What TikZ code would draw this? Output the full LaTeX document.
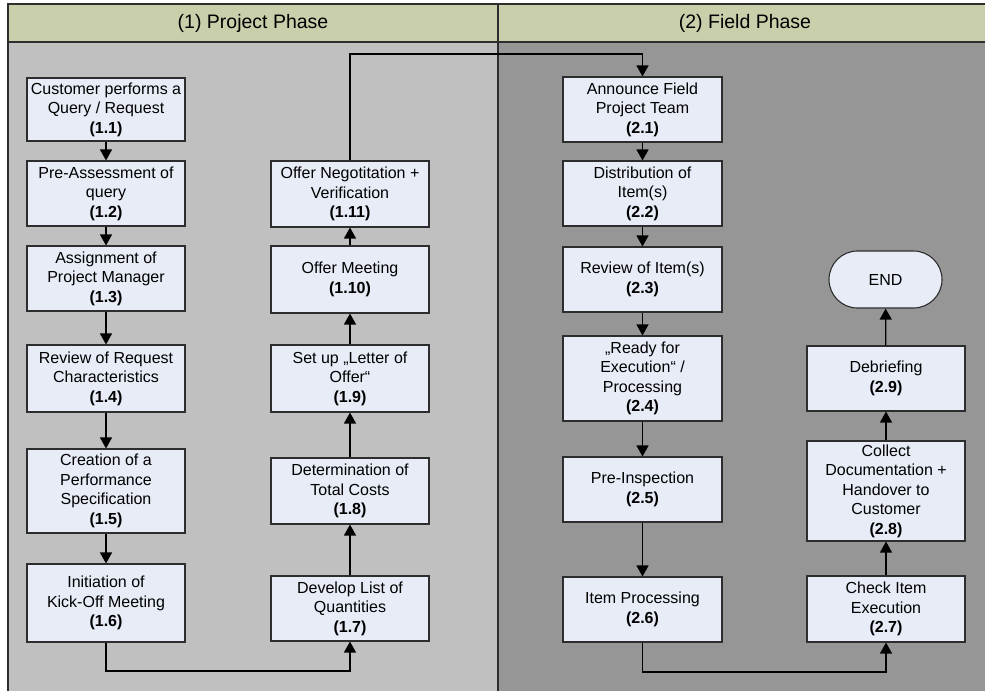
\documentclass[tikz,border=0pt]{standalone}
\usepackage{fontspec}
\setmainfont{Liberation Sans}
\usetikzlibrary{arrows.meta,shapes.misc}

\definecolor{headfill}{RGB}{200,207,170}
\definecolor{leftlane}{RGB}{192,192,192}
\definecolor{rightlane}{RGB}{150,150,150}
\definecolor{boxfill}{RGB}{231,236,247}
\definecolor{edgecol}{RGB}{45,45,45}

\tikzset{
  procbox/.style={draw=edgecol, line width=1.1pt, fill=boxfill, inner sep=0pt,
    minimum width=158pt, align=center, font=\fontsize{16pt}{19.5pt}\selectfont},
  endbox/.style={draw=edgecol, line width=1.1pt, fill=boxfill, inner sep=0pt,
    rounded rectangle, minimum width=113pt, minimum height=57pt,
    font=\fontsize{16pt}{19.5pt}\selectfont},
  flow/.style={draw=black, line width=1.3pt, -{Triangle[length=11pt,width=12pt]}},
  lanehead/.style={font=\fontsize{19.5pt}{22pt}\selectfont, anchor=center}
}

\begin{document}
\begin{tikzpicture}[x=1pt, y=-1pt]
\useasboundingbox (0,0) rectangle (985,691);

% swimlanes
\fill[headfill] (8,4) rectangle (985,42);
\fill[leftlane] (8,42) rectangle (498,691);
\fill[rightlane] (498,42) rectangle (985,691);
\draw[line width=1.3pt, edgecol] (985,4) -- (8,4) -- (8,691);
\draw[line width=1.3pt, edgecol] (8,42) -- (985,42);
\draw[line width=1.3pt, edgecol] (498,4) -- (498,691);
\node[lanehead] (lane1) at (253,23) {(1) Project Phase};
\node[lanehead] (lane2) at (745,23) {(2) Field Phase};

% project phase, left column
\node[procbox, minimum height=63pt] (p11) at (106,109.5) {Customer performs a\\Query / Request\\\textbf{(1.1)}};
\node[procbox, minimum height=65pt] (p12) at (106,193.5) {Pre-Assessment of\\query\\\textbf{(1.2)}};
\node[procbox, minimum height=65pt] (p13) at (106,278.5) {Assignment of\\Project Manager\\\textbf{(1.3)}};
\node[procbox, minimum height=67pt] (p14) at (106,378.5) {Review of Request\\Characteristics\\\textbf{(1.4)}};
\node[procbox, minimum height=84pt] (p15) at (106,491) {Creation of a\\Performance\\Specification\\\textbf{(1.5)}};
\node[procbox, minimum height=78pt] (p16) at (106,603) {Initiation of\\Kick-Off Meeting\\\textbf{(1.6)}};

% project phase, second column
\node[procbox, minimum height=65pt] (p17) at (350,608.5) {Develop List of\\Quantities\\\textbf{(1.7)}};
\node[procbox, minimum height=66pt] (p18) at (350,491) {Determination of\\Total Costs\\\textbf{(1.8)}};
\node[procbox, minimum height=67pt] (p19) at (350,378.5) {Set up „Letter of\\Offer“\\\textbf{(1.9)}};
\node[procbox, minimum height=67pt] (p110) at (350,279.5) {Offer Meeting\\\textbf{(1.10)}};
\node[procbox, minimum height=66pt] (p111) at (350,194) {Offer Negotitation +\\Verification\\\textbf{(1.11)}};

% field phase, first column
\node[procbox, minimum width=159pt, minimum height=65pt] (p21) at (642.5,109.5) {Announce Field\\Project Team\\\textbf{(2.1)}};
\node[procbox, minimum width=159pt, minimum height=65pt] (p22) at (642.5,193.5) {Distribution of\\Item(s)\\\textbf{(2.2)}};
\node[procbox, minimum width=159pt, minimum height=65pt] (p23) at (642.5,279.5) {Review of Item(s)\\\textbf{(2.3)}};
\node[procbox, minimum width=159pt, minimum height=85pt] (p24) at (642.5,378.5) {„Ready for\\Execution“ /\\Processing\\\textbf{(2.4)}};
\node[procbox, minimum width=159pt, minimum height=65pt] (p25) at (642.5,489.5) {Pre-Inspection\\\textbf{(2.5)}};
\node[procbox, minimum width=159pt, minimum height=65pt] (p26) at (642.5,609.5) {Item Processing\\\textbf{(2.6)}};

% field phase, second column
\node[procbox, minimum height=66pt] (p27) at (886,609) {Check Item\\Execution\\\textbf{(2.7)}};
\node[procbox, minimum height=100pt] (p28) at (886,491) {Collect\\Documentation +\\Handover to\\Customer\\\textbf{(2.8)}};
\node[procbox, minimum height=65pt] (p29) at (886,378.5) {Debriefing\\\textbf{(2.9)}};
\node[endbox] (fin) at (885.5,279.5) {END};

% routing levels for the loop-back connectors
\coordinate (lowA) at (0,671);
\coordinate (topA) at (0,54);
\coordinate (lowB) at (0,672);

% connectors
\draw[flow] (p11) -- (p12);
\draw[flow] (p12) -- (p13);
\draw[flow] (p13) -- (p14);
\draw[flow] (p14) -- (p15);
\draw[flow] (p15) -- (p16);
\draw[flow] (p16.south) -- (p16.south |- lowA) -- (p17.south |- lowA) -- (p17.south);
\draw[flow] (p17) -- (p18);
\draw[flow] (p18) -- (p19);
\draw[flow] (p19) -- (p110);
\draw[flow] (p110) -- (p111);
\draw[flow] (p111.north) -- (p111.north |- topA) -- (p21.north |- topA) -- (p21.north);
\draw[flow] (p21) -- (p22);
\draw[flow] (p22) -- (p23);
\draw[flow] (p23) -- (p24);
\draw[flow] (p24) -- (p25);
\draw[flow] (p25) -- (p26);
\draw[flow] (p26.south) -- (p26.south |- lowB) -- (p27.south |- lowB) -- (p27.south);
\draw[flow] (p27) -- (p28);
\draw[flow] (p28) -- (p29);
\draw[flow] (p29) -- (fin);
\end{tikzpicture}
\end{document}
